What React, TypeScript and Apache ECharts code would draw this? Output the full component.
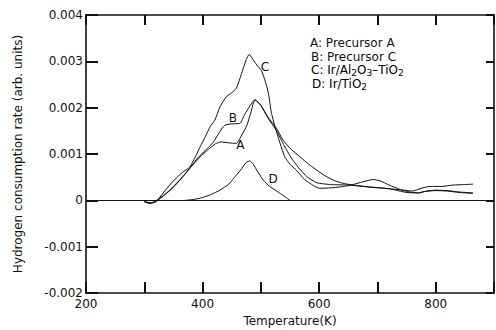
import React, { useEffect, useRef } from "react";
import * as echarts from "echarts";

// Temperature (K) and H2 consumption rate in units of 1e-3 (arb. units)
const precursorA: [number, number][] = [
  [300, -0.02], [308, -0.06], [316, -0.04], [330, 0.08], [345, 0.22], [360, 0.42], [378, 0.69],
  [395, 0.93], [410, 1.1], [422, 1.22], [432, 1.26], [445, 1.24], [458, 1.23], [466, 1.38],
  [476, 1.62], [484, 1.95], [490, 2.17], [500, 2.05], [512, 1.8], [527, 1.55], [538, 1.3],
  [552, 1.1], [567, 0.94], [582, 0.78], [596, 0.65], [610, 0.53], [624, 0.44], [640, 0.37],
  [658, 0.33], [687, 0.29], [720, 0.25], [750, 0.17], [770, 0.16], [785, 0.2], [800, 0.22],
  [820, 0.21], [840, 0.18], [864, 0.16],
];
const precursorC: [number, number][] = [
  [300, -0.03], [310, -0.07], [320, -0.03], [335, 0.12], [350, 0.3], [365, 0.5], [378, 0.69],
  [392, 0.92], [405, 1.08], [418, 1.25], [428, 1.45], [438, 1.62], [450, 1.65], [464, 1.66],
  [472, 1.85], [482, 2.05], [490, 2.17], [500, 2.05], [512, 1.78], [527, 1.5], [540, 1.18],
  [552, 0.92], [565, 0.7], [580, 0.5], [596, 0.38], [620, 0.34], [650, 0.33], [690, 0.28],
  [720, 0.25], [745, 0.22], [760, 0.2], [775, 0.26], [790, 0.3], [810, 0.3], [830, 0.33],
  [850, 0.34], [864, 0.35],
];
const irAlTi: [number, number][] = [
  [300, -0.03], [312, -0.05], [322, 0.0], [335, 0.2], [350, 0.42], [365, 0.6], [378, 0.72],
  [388, 0.95], [396, 1.16], [405, 1.38], [413, 1.59], [421, 1.73], [430, 2.02], [441, 2.24],
  [450, 2.32], [458, 2.42], [467, 2.74], [475, 3.04], [480, 3.15], [486, 3.05], [493, 2.92],
  [501, 2.8], [508, 2.55], [513, 2.31], [518, 1.9], [524, 1.6], [533, 1.23], [541, 0.94],
  [550, 0.78], [561, 0.65], [575, 0.45], [590, 0.32], [601, 0.26], [620, 0.27], [636, 0.29],
  [655, 0.33], [675, 0.4], [693, 0.45], [705, 0.42], [720, 0.33], [740, 0.23], [755, 0.18],
  [770, 0.16], [780, 0.19], [800, 0.21], [820, 0.2], [840, 0.17], [864, 0.15],
];
const irTi: [number, number][] = [
  [370, 0.0], [385, 0.02], [400, 0.06], [415, 0.13], [430, 0.22], [445, 0.35], [453, 0.47],
  [465, 0.65], [475, 0.82], [481, 0.85], [487, 0.78], [493, 0.65], [504, 0.44], [515, 0.3],
  [527, 0.2], [540, 0.09], [550, 0.0],
];

const curveLabels: { text: string; at: [number, number] }[] = [
  { text: "C", at: [507, 2.88] },
  { text: "B", at: [452, 1.77] },
  { text: "A", at: [465, 1.19] },
  { text: "D", at: [521, 0.47] },
];

const X_MIN = 200, X_MAX = 900, Y_MIN = -2, Y_MAX = 4;
const xTickValues = [300, 400, 500, 600, 700, 800];
const yTickValues = [-1, 1, 2, 3];
const yTickLabels: Record<string, string> = {
  "4": "0.004", "3": "0.003", "2": "0.002", "1": "0.001", "0": "0", "-1": "-0.001", "-2": "-0.002",
};
const xTickLabels = [200, 400, 600, 800];

const FONT = "DejaVu Sans";
const INK = "#111";

export default function App() {
  const ref = useRef<HTMLDivElement>(null);
  useEffect(() => {
    if (!ref.current) return;
    const chart = echarts.init(ref.current, null, { renderer: "svg" });
    const lineStyle = { color: INK, width: 1 };
    const mkSeries = (name: string, data: [number, number][]) => ({
      name, type: "line", data, showSymbol: false, symbol: "none", smooth: 0.2,
      lineStyle, silent: true,
    });
    const axisLine = { show: true, onZero: false, lineStyle: { color: INK, width: 1.6 } };
    const axisTick = (len: number) => ({
      show: true, inside: true, length: len, lineStyle: { color: INK, width: 2 },
    });
    chart.setOption({
      animation: false,
      backgroundColor: "#fff",
      grid: { left: 86, right: 2, top: 15, bottom: 37, outerBoundsMode: "none", containLabel: false },
      xAxis: [
        {
          type: "value", min: X_MIN, max: X_MAX, interval: 100, position: "bottom",
          axisLine, splitLine: { show: false }, axisTick: axisTick(11),
          axisLabel: {
            margin: 5, fontSize: 12, fontFamily: FONT, color: INK,
            formatter: (v: number) => (xTickLabels.includes(v) ? String(v) : ""),
          },
          name: "Temperature(K)", nameLocation: "middle", nameGap: 22,
          nameTextStyle: { fontSize: 12, fontFamily: FONT, color: INK },
        },
        {
          type: "value", min: X_MIN, max: X_MAX, interval: 100, position: "top",
          axisLine, splitLine: { show: false }, axisTick: axisTick(10),
          axisLabel: { show: false },
        },
      ],
      yAxis: [
        {
          type: "value", min: Y_MIN, max: Y_MAX, interval: 1, position: "left",
          axisLine, splitLine: { show: false }, axisTick: axisTick(12),
          axisLabel: {
            margin: 3, fontSize: 12, fontFamily: FONT, color: INK,
            formatter: (v: number) => yTickLabels[String(Math.round(v))] ?? "",
          },
          name: "Hydrogen consumption rate (arb. units)", nameLocation: "middle", nameGap: 62,
          nameTextStyle: { fontSize: 12, fontFamily: FONT, color: INK },
        },
        {
          type: "value", min: Y_MIN, max: Y_MAX, interval: 1, position: "right",
          axisLine, splitLine: { show: false }, axisTick: axisTick(8),
          axisLabel: { show: false },
        },
      ],
      series: [
        mkSeries("Precursor A", precursorA),
        mkSeries("Precursor C", precursorC),
        mkSeries("Ir/Al2O3-TiO2", irAlTi),
        mkSeries("Ir/TiO2", irTi),
      ],
    });

    const px = (p: [number, number]) => chart.convertToPixel({ gridIndex: 0 }, p) as number[];
    const dt = (p: number[]) => chart.convertFromPixel({ gridIndex: 0 }, p) as number[];
    // tick segments as markLine pairs, tick lengths given in pixels and converted via the scales
    const seg = (a: number[], b: number[]) => [{ coord: a }, { coord: b }];
    const tickSegs: any[] = [];
    xTickValues.forEach((v) => {
      const b = px([v, Y_MIN]);
      const t = px([v, Y_MAX]);
      tickSegs.push(seg([v, Y_MIN], dt([b[0], b[1] - 11])));
      tickSegs.push(seg([v, Y_MAX], dt([t[0], t[1] + 10])));
    });
    yTickValues.forEach((v) => {
      const l = px([X_MIN, v]);
      const r = px([X_MAX, v]);
      tickSegs.push(seg([X_MIN, v], dt([l[0] + 12, l[1]])));
      tickSegs.push(seg([X_MAX, v], dt([r[0] - 8, r[1]])));
    });

    const textStyle = { fontSize: 12, fontFamily: FONT, fill: INK };
    const rich = {
      n: { fontSize: 12, fontFamily: FONT, color: INK },
      s: { fontSize: 9, fontFamily: FONT, color: INK, padding: [6, 0, 0, 0] },
    };
    const labels = curveLabels.map((c) => {
      const p = px(c.at);
      return {
        type: "text", x: p[0], y: p[1], silent: true,
        style: { ...textStyle, text: c.text, align: "center", verticalAlign: "middle" },
      };
    });
    chart.setOption({
      series: [
        {
          markLine: {
            silent: true, symbol: "none", label: { show: false }, animation: false,
            lineStyle: { color: INK, width: 1, type: "solid" },
            data: [{ yAxis: 0 }],
          },
        },
        {
          markLine: {
            silent: true, symbol: "none", label: { show: false }, animation: false,
            lineStyle: { color: INK, width: 2, type: "solid" },
            data: tickSegs,
          },
        },
      ],
      graphic: [
        ...labels,
        { type: "text", left: 310, top: 37, style: { ...textStyle, text: "A: Precursor A" } },
        { type: "text", left: 311, top: 51, style: { ...textStyle, text: "B: Precursor C" } },
        {
          type: "text", left: 311, top: 64,
          style: { text: "{n|C: Ir/Al}{s|2}{n|O}{s|3}{n|–TiO}{s|2}", rich },
        },
        {
          type: "text", left: 312, top: 78,
          style: { text: "{n|D: Ir/TiO}{s|2}", rich },
        },
      ],
    });
    return () => chart.dispose();
  }, []);
  return (
    <div
      ref={ref}
      style={{ position: "fixed", left: 0, top: 0, width: 496, height: 330, background: "#fff" }}
    />
  );
}
